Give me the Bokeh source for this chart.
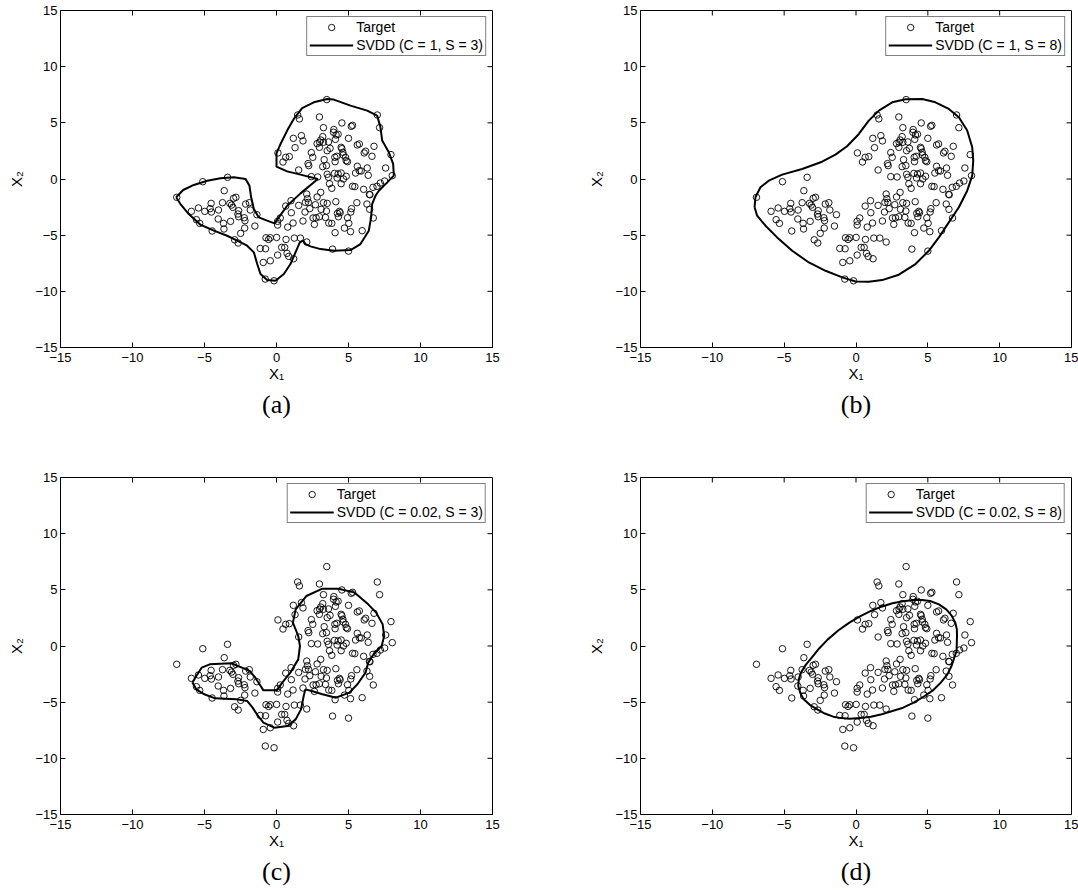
from bokeh.plotting import figure
from bokeh.models import Range1d, LinearAxis, FixedTicker, Title, Legend, LegendItem
from bokeh.layouts import column, row
from bokeh.embed import file_html
from bokeh.resources import INLINE

# Target samples (same data set in all four panels)
x1 = [-6.93, -5.12, -3.40, -3.63, -5.91, -5.42, -5.56, -5.33, -4.98, -4.54,
      -4.61, -4.52, -4.03, -4.47, -4.05, -3.75, -3.68, -3.65, -3.24, -3.12,
      -3.03, -2.98, -2.82, -3.19, -2.63, -2.68, -2.63, -2.14, -1.89, -1.82,
      -2.24, -2.19, -2.21, -2.49, -2.91, -2.66, -1.36, -1.50, -1.13, -0.76,
      -0.73, -0.55, -0.43, 0.01, 0.08, 0.26, 0.08, -0.92, -0.43, 0.08,
      0.36, 0.57, 0.73, 0.85, 1.19, -0.78, -0.17, 0.66, 0.78, 1.15,
      1.24, 1.66, 2.10, 0.64, 1.01, 1.03, 1.54, 1.84, 1.98, 2.01,
      2.10, 2.15, 2.22, 2.31, 2.54, 2.63, 2.75, 2.70, 2.82, 3.07,
      3.10, 2.98, 3.26, 3.52, 3.47, 3.40, 3.63, 3.84, 4.12, 4.07,
      4.23, 4.30, 4.37, 4.42, 4.72, 4.93, 5.02, 5.14, 5.21, 5.16,
      5.58, 5.95, 5.00, 3.89, 6.28, 6.47, 6.72, 3.49, 1.47, 1.59,
      2.98, 4.54, 5.19, 5.28, 7.00, 7.16, 3.26, 3.98, 3.96, 4.28,
      4.14, 3.21, 3.07, 3.00, 2.82, 3.26, 3.61, 4.09, 5.00, 1.17,
      1.73, 1.84, 1.29, 2.98, 3.72, 3.52, 4.49, 4.54, 4.61, 4.63,
      4.79, 4.84, 4.93, 5.61, 5.75, 6.19, 6.09, 6.77, 6.63, 7.95,
      7.58, 8.04, 7.51, 7.21, 6.98, 6.70, 6.05, 6.45, 6.49, 6.30,
      6.37, 5.61, 5.75, 5.88, 5.49, 5.28, 5.44, 4.84, 4.49, 4.28,
      4.03, 4.21, 4.65, 4.49, 3.84, 3.68, 3.61, 3.52, 3.21, 3.47,
      3.31, 4.07, 4.19, 4.05, 2.52, 2.42, 2.19, 2.24, 1.54, 2.42,
      2.86, 0.10, 0.64, 0.89, 0.45]
x2 = [-1.63, -0.24, 0.15, -1.04, -2.88, -2.58, -3.62, -3.95, -2.88, -2.17,
      -2.64, -2.94, -2.76, -4.63, -3.56, -2.11, -3.95, -4.45, -2.17, -2.32,
      -2.52, -1.72, -1.63, -3.77, -2.82, -3.12, -3.36, -2.23, -2.11, -2.76,
      -3.45, -3.71, -4.37, -4.84, -5.41, -5.70, -3.18, -4.19, -6.18, -6.21,
      -5.23, -5.38, -5.23, -5.20, -3.77, -3.47, -4.10, -7.43, -7.28, -6.77,
      -6.09, -6.09, -6.62, -6.89, -7.10, -8.91, -9.06, -5.38, -4.28, -3.92,
      -5.26, -5.26, -5.61, -2.41, -1.93, -3.00, -2.35, -3.74, -2.94, -2.08,
      -1.34, -1.75, -2.08, -2.64, -3.47, -4.04, -3.45, -2.29, -1.60, -1.19,
      -2.70, -3.36, -2.11, -2.17, -2.85, -3.42, -3.92, -3.95, -2.02, -4.78,
      -3.06, -3.36, -2.88, -3.00, -4.37, -3.45, -3.95, -4.69, -2.64, -2.94,
      -2.11, -4.60, -6.42, -6.24, -2.23, -2.70, -3.47, 7.07, 5.70, 5.35,
      5.52, 4.99, 4.69, 4.78, 5.70, 4.57, 4.57, 4.40, 4.16, 3.98,
      3.92, 3.77, 3.47, 3.27, 3.15, 3.27, 3.30, 3.53, 3.62, 3.62,
      3.86, 3.39, 2.79, 2.82, 2.73, 2.52, 2.82, 2.70, 2.38, 2.14,
      1.93, 1.63, 1.54, 3.03, 3.12, 2.47, 2.32, 2.91, 2.02, 2.17,
      0.98, 0.30, -0.18, -0.36, -0.65, -0.74, -0.92, -1.37, -1.40, 0.98,
      0.33, 1.13, 0.74, 0.71, 0.53, -0.65, -0.68, 0.24, 0.53, 0.45,
      0.50, 0.09, 0.00, -0.42, -0.83, -0.42, 0.15, 0.42, 1.10, 1.19,
      1.72, 1.54, 2.02, 1.93, 1.93, 2.35, 1.37, 1.19, 0.80, 0.21,
      0.18, 2.32, 1.93, 1.99, 1.51]

# SVDD decision boundaries (closed contours)
bound_c1_s3_x = [-6.97, -6.48, -5.74, -4.81, -3.89, -2.96, -2.15, -1.88, -1.76, -1.57,
                 -1.23, -0.65, -0.14, 0.16, 0.74, 1.67, 2.87, 1.67, 0.74, 0.0,
                 0.0, 0.28, 0.74, 1.20, 1.78, 2.59, 3.52, 3.98, 5.14, 6.30,
                 6.99, 7.22, 7.34, 7.80, 8.10, 8.15, 7.69, 7.11, 6.88, 6.64,
                 6.57, 6.41, 5.83, 5.14, 3.98, 3.06, 2.36, 2.01, 1.85, 1.62,
                 1.32, 0.97, 0.51, -0.07, -0.65, -1.11, -1.34, -1.57, -2.04, -2.62,
                 -3.43, -4.35, -5.28, -6.09, -6.67, -6.97]
bound_c1_s3_y = [-1.63, -0.98, -0.53, -0.15, 0.06, 0.15, 0.0, -0.59, -1.63, -2.67,
                 -3.42, -3.71, -3.95, -3.42, -2.38, -1.28, 0.0, 0.39, 0.68, 1.10,
                 2.29, 3.12, 4.31, 5.35, 6.30, 6.83, 7.13, 7.07, 6.53, 6.09,
                 5.64, 4.60, 3.42, 2.38, 1.34, 0.30, -0.30, -1.04, -1.48, -2.23,
                 -3.42, -4.60, -5.79, -6.33, -6.39, -6.24, -6.0, -5.79, -5.49, -5.64,
                 -6.53, -7.57, -8.46, -9.06, -9.0, -8.46, -7.57, -6.53, -5.94, -5.55,
                 -5.05, -4.60, -4.07, -3.12, -2.23, -1.63]

bound_c1_s8_x = [-7.06, -7.0, -6.65, -6.07, -5.14, -3.75, -2.36, -1.43, -0.62, 0.20,
                 0.89, 1.59, 2.52, 3.45, 4.61, 5.53, 6.46, 7.16, 7.74, 8.09,
                 8.16, 8.09, 7.74, 7.16, 6.46, 5.77, 5.07, 4.14, 2.98, 1.82,
                 0.89, -0.03, -0.96, -2.12, -3.28, -4.44, -5.49, -6.30, -6.88, -7.06]
bound_c1_s8_y = [-2.52, -1.63, -0.74, -0.15, 0.39, 0.89, 1.54, 2.17, 2.91, 4.01,
                 5.20, 6.09, 6.83, 7.10, 7.13, 6.83, 6.24, 5.49, 4.31, 2.82,
                 1.63, 0.30, -1.04, -2.52, -3.86, -5.20, -6.39, -7.57, -8.52, -9.0,
                 -9.15, -9.12, -8.76, -8.17, -7.43, -6.39, -5.20, -4.16, -3.27, -2.52]

bound_c002_s3_x = [-5.84, -5.57, -5.20, -4.64, -3.15, -2.40, -1.84, -1.47, -1.10, -0.91,
                   0.02, 0.40, 0.96, 1.51, 1.63, 1.51, 1.14, 1.33, 2.07, 3.19,
                   4.31, 5.43, 6.37, 6.92, 7.37, 7.48, 7.30, 6.74, 6.37, 6.18,
                   5.62, 5.06, 4.13, 3.19, 2.45, 2.00, 1.89, 1.70, 1.33, 0.77,
                   -0.16, -0.91, -1.28, -1.66, -2.03, -2.78, -4.27, -5.01, -5.57, -5.84]
bound_c002_s3_y = [-3.26, -2.67, -1.93, -1.63, -1.54, -1.93, -2.23, -2.82, -3.56, -3.95,
                   -3.95, -3.26, -2.37, -1.19, 0.0, 0.89, 2.08, 3.26, 4.45, 5.10,
                   5.10, 4.75, 3.71, 2.97, 1.93, 0.89, 0.0, -0.74, -1.48, -2.37,
                   -3.41, -4.15, -4.60, -4.30, -4.01, -3.86, -4.45, -5.64, -6.53, -7.12,
                   -7.27, -6.82, -6.23, -5.49, -4.90, -4.75, -4.66, -4.30, -3.86, -3.26]

bound_c002_s8_x = [7.03, 7.00, 6.65, 6.35, 5.90, 5.40, 4.78, 4.05, 3.28, 2.53,
                   1.80, 1.04, 0.30, -0.46, -1.02, -1.58, -2.17, -2.70, -3.22, -3.64,
                   -3.88, -4.02, -3.98, -3.83, -3.50, -3.08, -2.55, -1.96, -1.24, -0.46,
                   0.28, 1.04, 1.77, 2.53, 3.28, 4.03, 4.60, 5.16, 5.77, 6.28,
                   6.65, 6.91, 7.02, 7.03]
bound_c002_s8_y = [0.89, -0.45, -1.78, -2.55, -3.26, -3.90, -4.45, -5.02, -5.49, -5.79,
                   -6.07, -6.29, -6.42, -6.47, -6.42, -6.29, -6.01, -5.64, -5.24, -4.75,
                   -4.17, -3.56, -2.95, -2.37, -1.68, -1.04, -0.20, 0.59, 1.38, 2.08,
                   2.64, 3.12, 3.50, 3.80, 3.99, 4.09, 4.10, 4.01, 3.70, 3.26,
                   2.72, 2.08, 1.50, 0.89]

tick_values = [-15, -10, -5, 0, 5, 10, 15]
tick_labels = ["\u221215", "\u221210", "\u22125", "0", "5", "10", "15"]

SANS = "Liberation Sans"
SERIF = "Liberation Serif"
TICK_PX = 5


def style_axis(ax):
    ax.ticker = FixedTicker(ticks=tick_values)
    ax.major_label_overrides = dict(zip(tick_values, tick_labels))
    ax.major_tick_in = TICK_PX
    ax.major_tick_out = 0
    ax.major_tick_line_color = "black"
    ax.major_tick_line_width = 1
    ax.minor_tick_line_color = None
    ax.axis_line_color = "black"
    ax.axis_line_width = 1
    ax.major_label_text_font = SANS
    ax.major_label_text_font_size = "13px"
    ax.major_label_text_color = "black"
    ax.axis_label_text_font = SANS
    ax.axis_label_text_font_size = "15px"
    ax.axis_label_text_font_style = "normal"
    ax.axis_label_text_color = "black"


def make_panel(bx, by, legend_text, caption, left, right, top, bottom, width, height):
    p = figure(width=width, height=height,
               x_range=Range1d(-15, 15), y_range=Range1d(-15, 15),
               x_axis_type=None, y_axis_type=None,
               output_backend="svg", toolbar_location=None, tools="",
               min_border_left=left, min_border_right=right,
               min_border_top=top, min_border_bottom=bottom)
    p.outline_line_color = "black"
    p.outline_line_width = 1
    p.background_fill_color = "white"
    p.border_fill_color = "white"

    xb = LinearAxis(axis_label="X\u2081")
    style_axis(xb)
    xb.major_label_standoff = 5
    xb.axis_label_standoff = 0
    p.add_layout(xb, "below")

    yl = LinearAxis(axis_label="X\u2082")
    style_axis(yl)
    yl.major_label_standoff = 3
    yl.axis_label_standoff = 7
    p.add_layout(yl, "left")

    # inward tick marks mirrored on the top and right edges of the box
    frame_w = width - left - right
    frame_h = height - top - bottom
    lx = 30.0 * TICK_PX / frame_w
    ly = 30.0 * TICK_PX / frame_h
    inner = tick_values[1:-1]
    p.segment(x0=inner, y0=[15] * len(inner), x1=inner, y1=[15 - ly] * len(inner),
              line_color="black", line_width=1)
    p.segment(x0=[15] * len(inner), y0=inner, x1=[15 - lx] * len(inner), y1=inner,
              line_color="black", line_width=1)

    pts = p.scatter(x1, x2, marker="circle", size=6.5, fill_color=None,
                    line_color="black", line_width=0.9)
    ln = p.line(bx, by, line_color="black", line_width=2)

    legend = Legend(items=[LegendItem(label="Target", renderers=[pts]),
                           LegendItem(label=legend_text, renderers=[ln])],
                    location="top_right")
    legend.border_line_color = "black"
    legend.border_line_width = 1
    legend.background_fill_color = "white"
    legend.background_fill_alpha = 1
    legend.label_text_font = SANS
    legend.label_text_font_size = "14px"
    legend.label_text_color = "black"
    legend.glyph_width = 44
    legend.glyph_height = 16
    legend.label_height = 16
    legend.label_standoff = 3
    legend.spacing = 2
    legend.padding = 2
    legend.margin = 6
    p.add_layout(legend)

    cap = Title(text=caption, align="center", text_font=SERIF,
                text_font_size="26px", text_font_style="normal",
                text_color="black", standoff=6)
    p.add_layout(cap, "below")
    return p


pa = make_panel(bound_c1_s3_x, bound_c1_s3_y, "SVDD (C = 1, S = 3)", "(a)",
                60, 47, 10, 121, 539, 468)
pb = make_panel(bound_c1_s8_x, bound_c1_s8_y, "SVDD (C = 1, S = 8)", "(b)",
                101, 7, 10, 121, 539, 468)
pc = make_panel(bound_c002_s3_x, bound_c002_s3_y, "SVDD (C = 0.02, S = 3)", "(c)",
                60, 47, 9, 76, 539, 422)
pd = make_panel(bound_c002_s8_x, bound_c002_s8_y, "SVDD (C = 0.02, S = 8)", "(d)",
                101, 7, 9, 76, 539, 422)

layout = column(row(pa, pb), row(pc, pd))

with open("out.html", "w") as f:
    f.write(file_html(layout, INLINE))
